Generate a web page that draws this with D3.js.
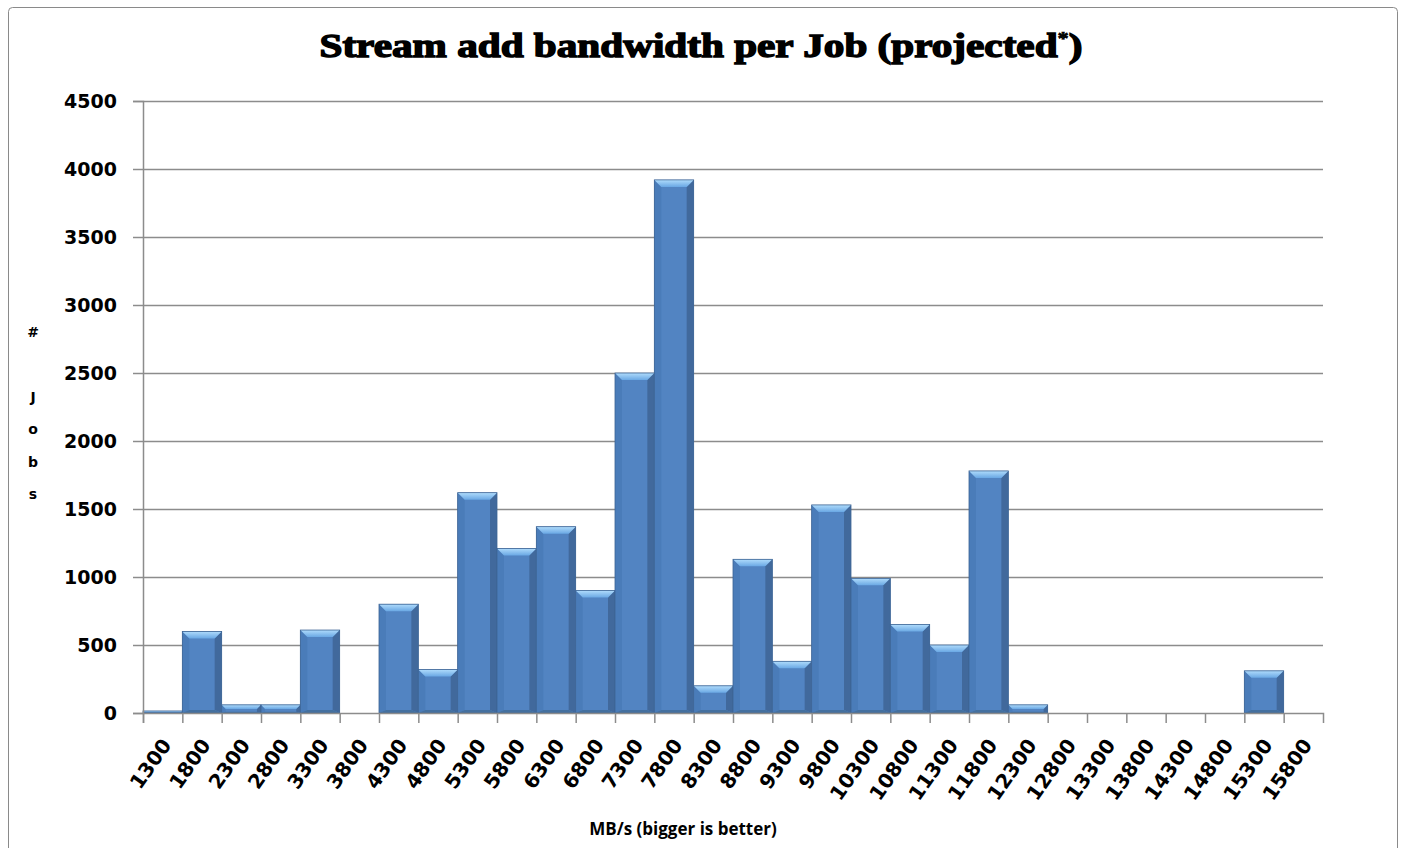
<!DOCTYPE html>
<html>
<head>
<meta charset="utf-8">
<script src="https://cdn.jsdelivr.net/npm/d3@7"></script>
<style>
  html, body { margin: 0; padding: 0; background: #fff; }
  svg { display: block; }
</style>
</head>
<body>
<script>
// Histogram bins: lower edge of each 500 MB/s bin and the number of jobs in it
const binStarts = [1300, 1800, 2300, 2800, 3300, 3800, 4300, 4800, 5300, 5800,
                   6300, 6800, 7300, 7800, 8300, 8800, 9300, 9800, 10300, 10800,
                   11300, 11800, 12300, 12800, 13300, 13800, 14300, 14800, 15300];
const jobCounts = [15, 600, 60, 60, 610, 0, 800, 320, 1620, 1210,
                   1370, 900, 2500, 3920, 200, 1130, 380, 1530, 990, 650,
                   500, 1780, 60, 0, 0, 0, 0, 0, 310];
const binWidth = 500;
const xTickLabels = [1300, 1800, 2300, 2800, 3300, 3800, 4300, 4800, 5300, 5800,
                     6300, 6800, 7300, 7800, 8300, 8800, 9300, 9800, 10300, 10800,
                     11300, 11800, 12300, 12800, 13300, 13800, 14300, 14800, 15300, 15800];
const yTickValues = [0, 500, 1000, 1500, 2000, 2500, 3000, 3500, 4000, 4500];

const W = 1405, H = 848;
const svg = d3.select("body").append("svg").attr("width", W).attr("height", H);

// Outer chart frame
svg.append("rect")
  .attr("x", 8.5).attr("y", 7.5).attr("width", 1389).attr("height", 860)
  .attr("rx", 4)
  .attr("fill", "#fff").attr("stroke", "#8a8a8a").attr("stroke-width", 1);

const x = d3.scaleLinear().domain([1300, 16300]).range([143, 1323]);
const y = d3.scaleLinear().domain([0, 4500]).range([713, 101]);

// Gradient for the bevelled top face
const defs = svg.append("defs");
const g = defs.append("linearGradient").attr("id", "topFace")
  .attr("x1", 0).attr("y1", 0).attr("x2", 0).attr("y2", 1);
g.append("stop").attr("offset", "0%").attr("stop-color", "#b0dcfc");
g.append("stop").attr("offset", "100%").attr("stop-color", "#6aa8e4");

// Horizontal gridlines
svg.append("g")
  .selectAll("line").data(yTickValues.filter(v => v > 0)).join("line")
  .attr("x1", x(1300)).attr("x2", x(16300))
  .attr("y1", d => Math.round(y(d)) + 0.5).attr("y2", d => Math.round(y(d)) + 0.5)
  .attr("stroke", "#8c8c8c").attr("stroke-width", 1.5);

// Bars with bevelled faces
const bars = svg.append("g");
binStarts.forEach((s, i) => {
  const v = jobCounts[i];
  if (v <= 0) return;
  const x0 = x(s), x1 = x(s + binWidth);
  const y0 = y(v), y1 = y(0);
  const h = y1 - y0;
  const b = Math.min(7, h * 0.5);
  const bb = Math.min(3, h * 0.15);
  const bar = bars.append("g");
  bar.append("rect").attr("x", x0).attr("y", y0).attr("width", x1 - x0).attr("height", h)
    .attr("fill", "#5284c2");
  // left face
  bar.append("polygon")
    .attr("points", [[x0, y0], [x0 + b, y0 + b], [x0 + b, y1 - bb], [x0, y1]].join(" "))
    .attr("fill", "#4a7cb9");
  // right face
  bar.append("polygon")
    .attr("points", [[x1, y0], [x1, y1], [x1 - b, y1 - bb], [x1 - b, y0 + b]].join(" "))
    .attr("fill", "#41699c");
  // bottom face
  bar.append("polygon")
    .attr("points", [[x0, y1], [x0 + b, y1 - bb], [x1 - b, y1 - bb], [x1, y1]].join(" "))
    .attr("fill", "#44709f");
  // top face
  bar.append("polygon")
    .attr("points", [[x0, y0], [x1, y0], [x1 - b, y0 + b], [x0 + b, y0 + b]].join(" "))
    .attr("fill", "url(#topFace)");
  bar.append("rect").attr("x", x0).attr("y", y0).attr("width", x1 - x0).attr("height", h)
    .attr("fill", "none").attr("stroke", "#3d6494").attr("stroke-width", 0.8);
});

// Y axis
const yAxis = svg.append("g").attr("transform", `translate(${x(1300)},0)`)
  .call(d3.axisLeft(y).tickValues(yTickValues).tickSize(10).tickPadding(16)
    .tickFormat(d3.format("d")));
yAxis.select(".domain").attr("stroke", "#8c8c8c").attr("stroke-width", 1.5);
yAxis.selectAll(".tick line").attr("stroke", "#8c8c8c").attr("stroke-width", 1.5);
yAxis.selectAll(".tick text")
  .attr("font-family", "'DejaVu Sans', Verdana, sans-serif")
  .attr("font-weight", "bold").attr("font-size", 19).attr("fill", "#000")
  .attr("dy", "0.36em");

// X axis
const xAxis = svg.append("g").attr("transform", `translate(0,${y(0)})`)
  .call(d3.axisBottom(x).tickValues(xTickLabels).tickSize(10).tickFormat(d3.format("d")));
xAxis.select(".domain").attr("stroke", "#8c8c8c").attr("stroke-width", 1.5);
xAxis.selectAll(".tick line").attr("stroke", "#8c8c8c").attr("stroke-width", 1.5);
xAxis.selectAll(".tick text")
  .attr("font-family", "'DejaVu Sans', Verdana, sans-serif")
  .attr("font-weight", "bold").attr("font-size", 20).attr("fill", "#000")
  .attr("text-anchor", "end").attr("dy", null).attr("y", null)
  .attr("dominant-baseline", "central")
  .attr("transform", "translate(23,28) rotate(-55)");

// Title
const title = svg.append("text")
  .attr("x", 701).attr("y", 57).attr("text-anchor", "middle")
  .attr("font-family", "'Liberation Serif', 'Times New Roman', serif")
  .attr("font-weight", "bold").attr("font-size", 33)
  .attr("fill", "#000").attr("stroke", "#000").attr("stroke-width", 1.4)
  .attr("textLength", 763).attr("lengthAdjust", "spacingAndGlyphs");
title.append("tspan").text("Stream add bandwidth per Job (projected");
title.append("tspan").text("*").attr("font-size", 18).attr("dy", -12).attr("stroke-width", 0.6);
title.append("tspan").text(")").attr("dy", 12);

// Y axis title, stacked letters
const yTitle = ["#", "", "J", "o", "b", "s"];
svg.append("g").selectAll("text").data(yTitle).join("text")
  .attr("x", 33).attr("y", (d, i) => 332 + i * 32.4)
  .attr("text-anchor", "middle").attr("dominant-baseline", "central")
  .attr("font-family", "'DejaVu Sans', Verdana, sans-serif")
  .attr("font-weight", "bold").attr("font-size", 14).attr("fill", "#000")
  .text(d => d);

// X axis title
svg.append("text")
  .attr("x", 683).attr("y", 835).attr("text-anchor", "middle")
  .attr("font-family", "'Open Sans', Lato, sans-serif")
  .attr("font-weight", "bold").attr("font-size", 17).attr("fill", "#000")
  .text("MB/s (bigger is better)");
</script>
</body>
</html>
